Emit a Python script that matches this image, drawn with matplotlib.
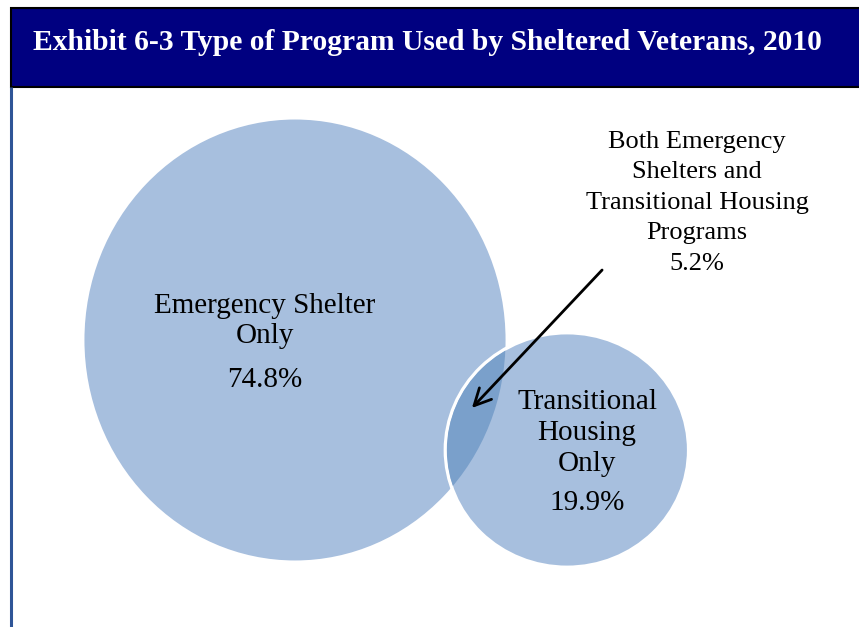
"""Exhibit 6-3: type of program used by sheltered veterans, 2010 (area-proportional Venn)."""

import matplotlib
matplotlib.use("Agg")
import matplotlib.pyplot as plt
from matplotlib.patches import Ellipse, Rectangle
import numpy as np

# --- data ---
title = "Exhibit 6-3 Type of Program Used by Sheltered Veterans, 2010"
set_labels = ["Emergency Shelter\nOnly", "Transitional\nHousing\nOnly"]
only_pct = [74.8, 19.9]
both_label = "Both Emergency\nShelters and\nTransitional Housing\nPrograms"
both_pct = 5.2

# --- layout (pixel coords, y down) ---
W, H = 859, 627
centers = [(295, 340), (567, 450)]
stretch = [(0.955, 1.0), (0.985, 0.95)]   # source image is slightly non-square
k = 24.65                                  # px per sqrt(percent)
FILL = "#a7bfde"
OVERLAP = "#7aa0cb"
SERIF = ["Liberation Serif", "DejaVu Serif"]

fig = plt.figure(figsize=(W / 100, H / 100), dpi=100)
ax = fig.add_axes([0, 0, 1, 1])
ax.set_xlim(0, W)
ax.set_ylim(H, 0)
ax.axis("off")

# header bar + left rule
ax.add_patch(Rectangle((11, 8), W, 79, facecolor="#000080", edgecolor="black", lw=1.5, zorder=1))
ax.text(33, 42, title, color="white", fontsize=21.3, fontweight="bold", family=SERIF,
        ha="left", va="center", zorder=2)
ax.plot([10.5, 10.5], [87, H], color="#2f5597", lw=2.2, solid_capstyle="butt", zorder=1)

# circles sized by total share (only + both)
totals = [p + both_pct for p in only_pct]
ells = []
for (cx, cy), (sx, sy), t in zip(centers, stretch, totals):
    r = k * np.sqrt(t)
    ells.append(Ellipse((cx, cy), 2 * r * sx, 2 * r * sy, facecolor=FILL, edgecolor="none", zorder=3))
ax.add_patch(ells[0])
ells[1].set_edgecolor("white")
ells[1].set_linewidth(2.5)
ax.add_patch(ells[1])
# darker intersection: big circle redrawn, clipped to the small one
big2 = Ellipse(ells[0].center, ells[0].width, ells[0].height, facecolor=OVERLAP,
               edgecolor="none", zorder=4)
ax.add_patch(big2)
clip = Ellipse(ells[1].center, ells[1].width - 3, ells[1].height - 3, transform=ax.transData)
big2.set_clip_path(clip)

# labels
txt = dict(family=SERIF, fontsize=21, ha="center", va="center", linespacing=1.23, zorder=6)
ax.text(265, 321, set_labels[0], **txt)
ax.text(265, 380, f"{only_pct[0]}%", **txt)
ax.text(587, 433, set_labels[1], **txt)
ax.text(587, 503, f"{only_pct[1]}%", **txt)
ax.text(697, 203, both_label + f"\n{both_pct}%", family=SERIF, fontsize=19, ha="center",
        va="center", linespacing=1.5, zorder=6)

ax.annotate("", xy=(470, 410), xytext=(604, 268), zorder=7,
            arrowprops=dict(arrowstyle="->,head_length=1.2,head_width=0.6", color="black", lw=2))

fig.savefig("out.png", dpi=100)
